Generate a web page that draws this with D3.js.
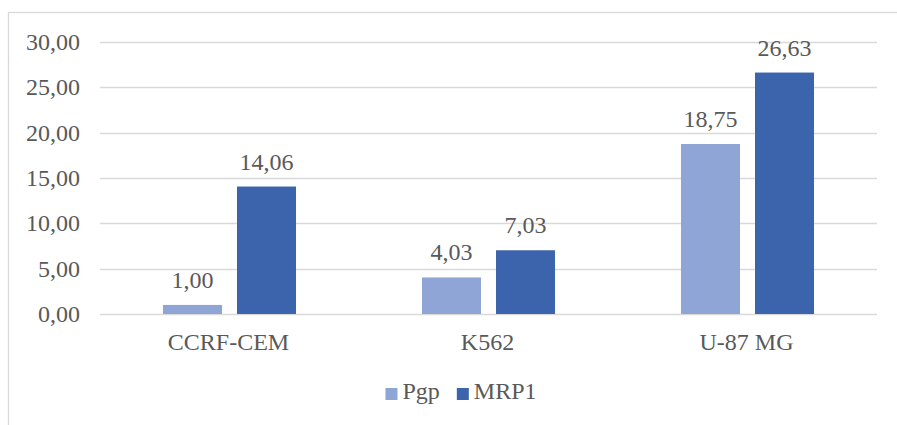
<!DOCTYPE html>
<html>
<head>
<meta charset="utf-8">
<script src="https://cdn.jsdelivr.net/npm/d3@7"></script>
<style>
  html, body { margin: 0; padding: 0; background: #ffffff; }
  svg { display: block; }
</style>
</head>
<body>
<svg id="chart" width="897" height="425" font-family="'Times New Roman', 'Liberation Serif', Tinos, 'DejaVu Serif', serif"></svg>
<script>
const categories = ["CCRF-CEM", "K562", "U-87 MG"];
const seriesNames = ["Pgp", "MRP1"];
const pgpValues = [1.00, 4.03, 18.75];
const mrp1Values = [14.06, 7.03, 26.63];
const yTicks = [0, 5, 10, 15, 20, 25, 30];
const seriesColors = ["#8FA5D6", "#3C64AD"];

const seriesValues = [pgpValues, mrp1Values];
const fmt = v => v.toFixed(2).replace(".", ",");

const svg = d3.select("#chart");
const plot = { left: 100, right: 877, top: 42, bottom: 314 };
const fontSize = 24;
const textColor = "#595959";

// chart area border (extends beyond the picture on the right and bottom)
svg.append("rect")
  .attr("x", 8.5).attr("y", 12.5)
  .attr("width", 920).attr("height", 440)
  .attr("fill", "#ffffff")
  .attr("stroke", "#D9D9D9").attr("stroke-width", 1.3);

const y = d3.scaleLinear().domain([0, 30]).range([plot.bottom, plot.top]);
const x0 = d3.scaleBand().domain(categories).range([plot.left, plot.right]).paddingInner(0).paddingOuter(0);
const x1 = d3.scaleBand().domain(seriesNames).range([0, x0.bandwidth()]).paddingInner(0.2027).paddingOuter(0.851);

// gridlines
svg.append("g").selectAll("line").data(yTicks).join("line")
  .attr("x1", plot.left).attr("x2", plot.right)
  .attr("y1", d => Math.round(y(d)) + 0.5).attr("y2", d => Math.round(y(d)) + 0.5)
  .attr("stroke", "#D9D9D9").attr("stroke-width", 1.3);

// y tick labels
svg.append("g").selectAll("text").data(yTicks).join("text")
  .attr("x", 80).attr("y", d => y(d) + 8)
  .attr("text-anchor", "end")
  .attr("font-size", fontSize).attr("fill", textColor)
  .text(d => fmt(d));

// bars
const rows = categories.map((c, i) => ({ cat: c, vals: seriesNames.map((s, j) => ({ s, j, v: seriesValues[j][i] })) }));
const groups = svg.append("g").selectAll("g").data(rows).join("g")
  .attr("transform", d => `translate(${x0(d.cat)},0)`);

groups.selectAll("rect").data(d => d.vals).join("rect")
  .attr("x", d => x1(d.s)).attr("width", x1.bandwidth())
  .attr("y", d => y(d.v)).attr("height", d => y(0) - y(d.v))
  .attr("fill", d => seriesColors[d.j]);

groups.selectAll("text").data(d => d.vals).join("text")
  .attr("x", d => x1(d.s) + x1.bandwidth() / 2)
  .attr("y", d => y(d.v) - 17)
  .attr("text-anchor", "middle")
  .attr("font-size", fontSize).attr("fill", textColor)
  .text(d => fmt(d.v));

// category labels
svg.append("g").selectAll("text").data(categories).join("text")
  .attr("x", d => x0(d) + x0.bandwidth() / 2 - 1)
  .attr("y", 350)
  .attr("text-anchor", "middle")
  .attr("font-size", fontSize).attr("fill", textColor)
  .text(d => d);

// legend
const legend = svg.append("g");
const items = legend.selectAll("g").data(seriesNames).join("g");
items.append("rect").attr("width", 12).attr("height", 12).attr("y", 388)
  .attr("fill", (d, i) => seriesColors[i]);
items.append("text").attr("x", 17).attr("y", 399).attr("font-size", fontSize).attr("fill", textColor).text(d => d);
let widths = [];
items.each(function () { widths.push(this.getBBox().width); });
const gap = 17;
const total = d3.sum(widths) + gap * (widths.length - 1);
let cx = 461 - total / 2;
items.attr("transform", (d, i) => {
  const tx = cx; cx += widths[i] + gap; return `translate(${tx},0)`;
});
</script>
</body>
</html>
